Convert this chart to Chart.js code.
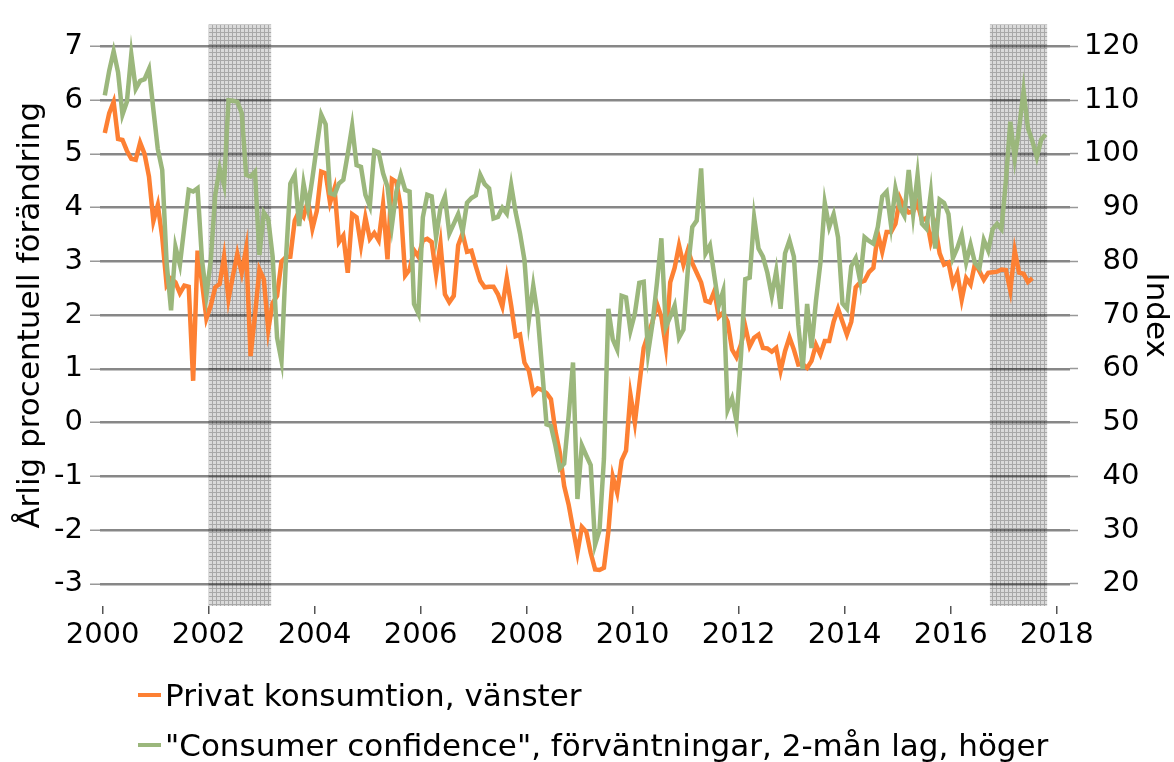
<!DOCTYPE html>
<html>
<head>
<meta charset="utf-8">
<script src="https://cdn.jsdelivr.net/npm/chart.js@4.4.0/dist/chart.umd.min.js"></script>
<style>
  html, body { margin: 0; padding: 0; background: #fff; }
  #wrap { position: relative; width: 1174px; height: 762px; }
  #legend { position: absolute; left: 138px; top: 670px; font-family: 'DejaVu Sans', sans-serif; font-size: 31px; color: #000; }
  .item { display: flex; align-items: center; height: 50px; }
  .swatch { width: 23px; height: 4px; margin-right: 4px; }
</style>
</head>
<body>
<div id="wrap">
  <canvas id="chart" width="1174" height="762"></canvas>
  <div id="legend"></div>
</div>
<script>
// Monthly data, first value = Jan 2000
const START_YEAR = 2000;

// Privat konsumtion, årlig procentuell förändring (vänster axel)
const konsumtion = [
  5.39, 5.76, 5.97, 5.28, 5.26, 5.06, 4.91, 4.89, 5.21, 5.0, 4.58, 3.75,
  4.05, 3.45, 2.56, 2.68, 2.61, 2.41, 2.55, 2.53, 0.78, 3.2, 2.61, 1.94,
  2.18, 2.52, 2.58, 3.09, 2.3, 2.73, 3.14, 2.79, 3.24, 1.24, 2.0, 2.85,
  2.67, 1.73, 2.23, 2.36, 3.0, 3.08, 3.09, 3.76, 3.94, 3.83, 4.13, 3.61,
  3.94, 4.67, 4.64, 4.09, 4.36, 3.36, 3.48, 2.79, 3.88, 3.82, 3.3, 3.82,
  3.42, 3.53, 3.39, 4.06, 3.04, 4.53, 4.48, 4.0, 2.74, 2.85, 3.21, 3.09,
  3.39, 3.42, 3.36, 2.76, 3.33, 2.39, 2.24, 2.36, 3.3, 3.52, 3.18, 3.2,
  2.91, 2.64, 2.52, 2.53, 2.53, 2.39, 2.16, 2.69, 2.18, 1.61, 1.64, 1.12,
  0.97, 0.55, 0.64, 0.61, 0.55, 0.44, -0.15, -0.55, -1.18, -1.52, -1.97, -2.42,
  -1.94, -2.03, -2.42, -2.73, -2.74, -2.7, -2.03, -1.0, -1.3, -0.7, -0.52, 0.52,
  0.0, 0.7, 1.39, 1.64, 1.88, 2.21, 1.97, 1.42, 2.61, 2.88, 3.3, 2.94,
  3.21, 2.97, 2.79, 2.61, 2.27, 2.24, 2.45, 1.97, 2.05, 1.88, 1.36, 1.22,
  1.45, 1.79, 1.42, 1.58, 1.64, 1.39, 1.38, 1.32, 1.39, 0.97, 1.33, 1.59,
  1.36, 1.08, 1.09, 1.02, 1.15, 1.45, 1.27, 1.52, 1.52, 1.88, 2.12, 1.88,
  1.64, 1.88, 2.52, 2.61, 2.64, 2.8, 2.88, 3.52, 3.18, 3.55, 3.55, 3.7,
  4.18, 4.0, 3.91, 3.93, 4.09, 3.76, 3.81, 3.36, 3.64, 3.15, 2.94, 2.98,
  2.58, 2.78, 2.29, 2.69, 2.57, 2.96, 2.82, 2.66, 2.79, 2.8, 2.81, 2.85,
  2.84, 2.46, 3.2, 2.79, 2.77, 2.62, 2.69
];

// "Consumer confidence", förväntningar, 2 mån lag (höger axel, index)
const confidence = [
  110.9, 115.5, 119.1, 115.2, 107.3, 109.7, 118.5, 112.1, 113.6, 113.9, 115.8, 108.2,
  100.9, 97.0, 79.7, 70.9, 82.7, 79.4, 86.4, 93.3, 93.0, 93.6, 80.3, 73.6,
  80.3, 92.4, 97.3, 94.2, 110.0, 109.9, 109.7, 107.6, 96.1, 95.8, 96.7, 81.2,
  89.1, 87.9, 80.9, 65.8, 61.5, 80.3, 94.5, 96.1, 86.6, 94.5, 90.0, 95.5,
  101.5, 107.3, 105.5, 92.7, 92.4, 94.5, 95.2, 100.0, 105.2, 97.9, 97.6, 92.4,
  90.3, 100.6, 100.3, 96.4, 93.9, 86.7, 93.0, 96.1, 93.3, 93.0, 72.1, 70.3,
  88.2, 92.4, 92.1, 84.5, 90.0, 92.1, 85.2, 87.0, 88.8, 85.5, 90.9, 91.8,
  92.3, 96.1, 94.4, 93.6, 88.0, 88.3, 90.0, 88.9, 94.2, 89.2, 85.2, 80.3,
  69.2, 75.5, 70.0, 60.0, 49.7, 49.4, 45.8, 41.5, 42.4, 51.2, 61.2, 35.8,
  45.8, 43.9, 42.1, 27.3, 30.0, 43.3, 71.2, 65.5, 63.6, 73.6, 73.3, 67.1,
  70.3, 76.0, 76.2, 63.0, 68.5, 76.0, 84.3, 67.8, 69.7, 71.8, 65.8, 67.3,
  78.5, 86.4, 87.6, 97.3, 81.5, 83.0, 77.3, 71.8, 74.5, 52.4, 54.5, 50.3,
  62.1, 76.7, 77.0, 88.2, 82.4, 80.9, 77.9, 73.6, 78.2, 71.2, 81.5, 83.9,
  80.9, 68.2, 60.0, 72.1, 63.9, 72.7, 79.7, 90.9, 86.4, 88.8, 84.5, 72.2,
  71.2, 79.1, 80.6, 76.4, 84.5, 83.8, 83.3, 86.4, 92.1, 93.0, 86.7, 93.6,
  90.0, 88.5, 97.0, 88.8, 96.1, 87.0, 86.1, 92.7, 82.4, 91.5, 90.9, 88.8,
  80.6, 82.5, 85.0, 79.8, 83.1, 79.7, 78.7, 84.0, 82.0, 86.0, 87.0, 86.0,
  95.0, 106.0, 99.1, 104.8, 111.8, 104.8, 102.4, 99.4, 102.7, 103.6
];

const yearTicks = [2000, 2002, 2004, 2006, 2008, 2010, 2012, 2014, 2016, 2018];
const leftTicks = [-3, -2, -1, 0, 1, 2, 3, 4, 5, 6, 7];
const rightTicks = [20, 30, 40, 50, 60, 70, 80, 90, 100, 110, 120];

// Shaded periods (decimal years)
const shadeFrom = [2002.0, 2016.74];
const shadeTo = [2003.18, 2017.82];

const labelKons = 'Privat konsumtion, vänster';
const labelConf = '"Consumer confidence", förväntningar, 2-mån lag, höger';

const ORANGE = '#fd8033';
const GREEN = '#9bb77c';
const FONT = "'DejaVu Sans', sans-serif";

function toPoints(values) {
  return values.map((v, i) => ({ x: START_YEAR + (i + 0.5) / 12, y: v }));
}

// fine grey grid texture like the original shading
function hatch(ctx) {
  const c = document.createElement('canvas');
  c.width = 4; c.height = 4;
  const g = c.getContext('2d');
  g.fillStyle = '#dadada';
  g.fillRect(0, 0, 4, 4);
  g.fillStyle = '#a8a8a8';
  g.fillRect(0, 0, 4, 1);
  g.fillRect(0, 0, 1, 4);
  return ctx.createPattern(c, 'repeat');
}

const shadePlugin = {
  id: 'shade',
  beforeDraw(chart) {
    const { ctx, chartArea, scales } = chart;
    ctx.save();
    ctx.fillStyle = hatch(ctx);
    shadeFrom.forEach((from, k) => {
      const x0 = scales.x.getPixelForValue(from);
      const x1 = scales.x.getPixelForValue(shadeTo[k]);
      ctx.fillRect(x0, chartArea.top, x1 - x0, chartArea.bottom - chartArea.top);
    });
    ctx.restore();
  }
};

const ctx = document.getElementById('chart').getContext('2d');
new Chart(ctx, {
  type: 'line',
  data: {
    datasets: [
      {
        label: labelKons,
        data: toPoints(konsumtion),
        borderColor: ORANGE,
        borderWidth: 4.5,
        pointRadius: 0,
        tension: 0,
        yAxisID: 'y',
        order: 1
      },
      {
        label: labelConf,
        data: toPoints(confidence),
        borderColor: GREEN,
        borderWidth: 4.5,
        pointRadius: 0,
        tension: 0,
        yAxisID: 'y1',
        order: 0
      }
    ]
  },
  options: {
    responsive: false,
    animation: false,
    layout: { padding: { top: 9, bottom: 100 } },
    plugins: {
      legend: { display: false },
      tooltip: { enabled: false }
    },
    scales: {
      x: {
        type: 'linear',
        min: 1999.951,
        max: 2018.251,
        afterBuildTicks: s => { s.ticks = yearTicks.map(v => ({ value: v })); },
        afterFit: s => { s.height = 56; },
        border: { display: false },
        grid: { drawOnChartArea: false, tickLength: 8, tickColor: '#555', lineWidth: 1.5 },
        ticks: {
          color: '#000',
          font: { family: FONT, size: 29 },
          padding: 4,
          maxRotation: 0,
          autoSkip: false,
          callback: v => String(v)
        }
      },
      y: {
        position: 'left',
        min: -3.41,
        max: 7.41,
        afterBuildTicks: s => { s.ticks = leftTicks.map(v => ({ value: v })); },
        afterFit: s => { s.width = 100; },
        border: { display: false },
        grid: { color: 'rgba(0,0,0,0.47)', lineWidth: 2.5, tickLength: 10, tickColor: '#999', tickWidth: 1.5 },
        title: {
          display: true,
          text: 'Årlig procentuell förändring',
          color: '#000',
          font: { family: FONT, size: 31 },
          padding: { top: 12, bottom: 0 }
        },
        ticks: {
          color: '#000',
          font: { family: FONT, size: 29 },
          padding: 7,
          callback: v => String(v)
        }
      },
      y1: {
        position: 'right',
        min: 15.9,
        max: 124.1,
        afterBuildTicks: s => { s.ticks = rightTicks.map(v => ({ value: v })); },
        afterFit: s => { s.width = 104; },
        border: { display: false },
        grid: { drawOnChartArea: false, tickLength: 8, tickColor: '#999', tickWidth: 1.5 },
        title: {
          display: true,
          text: 'Index',
          color: '#000',
          font: { family: FONT, size: 31 },
          padding: { top: 0, bottom: 0 }
        },
        ticks: {
          color: '#000',
          font: { family: FONT, size: 29 },
          padding: 6,
          crossAlign: 'near',
          // figure spaces keep the numbers right-aligned
          callback: v => String(v).padStart(3, '\u2007')
        }
      }
    }
  },
  plugins: [shadePlugin]
});

// legend below the plot
const legend = document.getElementById('legend');
[[labelKons, ORANGE], [labelConf, GREEN]].forEach(([text, color]) => {
  const row = document.createElement('div');
  row.className = 'item';
  const sw = document.createElement('span');
  sw.className = 'swatch';
  sw.style.background = color;
  const t = document.createElement('span');
  t.textContent = text;
  row.appendChild(sw);
  row.appendChild(t);
  legend.appendChild(row);
});
</script>
</body>
</html>
